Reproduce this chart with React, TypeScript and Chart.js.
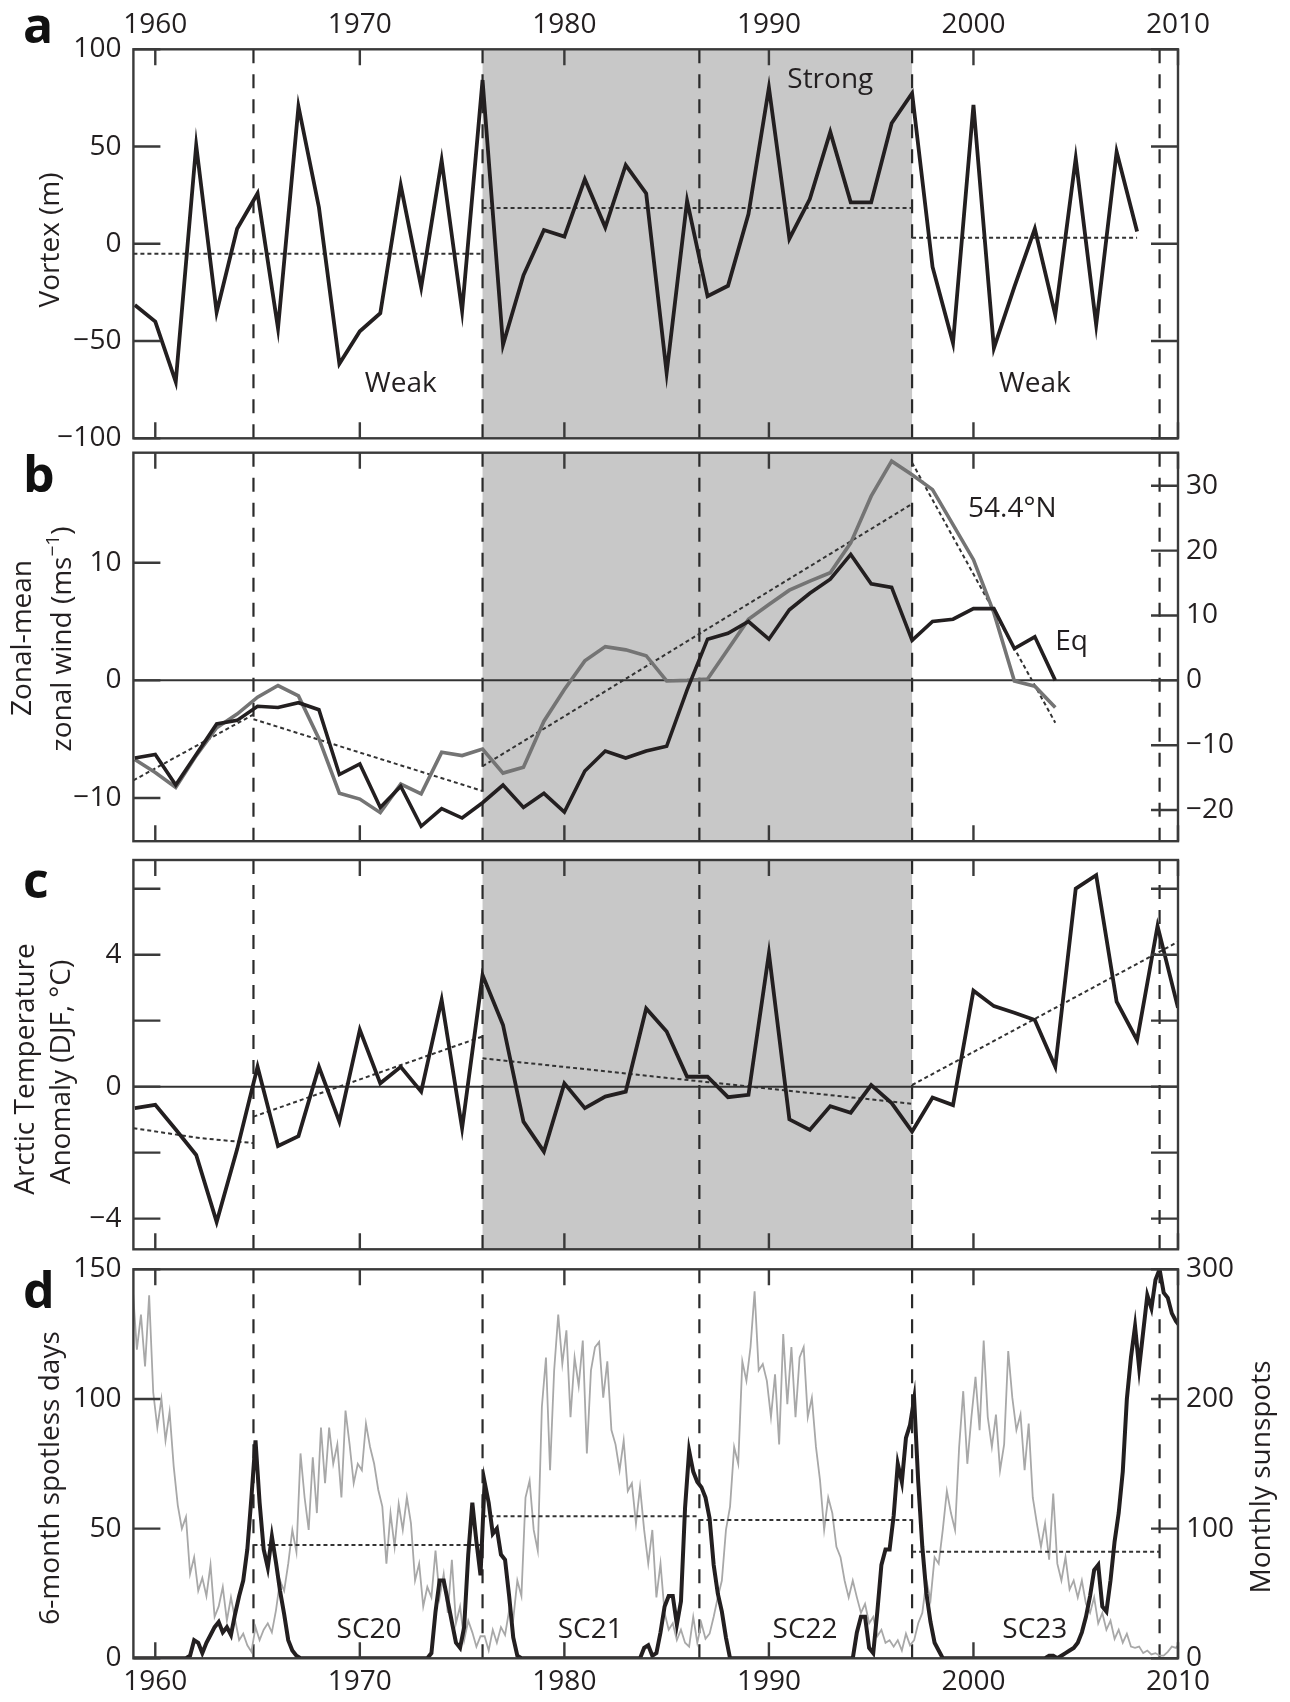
// App.tsx
import React, { useEffect, useRef } from 'react';
import Chart from 'chart.js/auto';

const FONT = '"Open Sans", "Noto Sans", "DejaVu Sans", sans-serif';
const INK = '#231f20';
const GRAY = '#747474';
const LIGHT = '#a8a8a8';
const SHADE = '#c8c8c8';
const LABEL_FONT = { family: FONT, size: 28 };

// shared time axis
const X_MIN = 1958.93;
const X_MAX = 2010;
const yearTicks = [1960, 1970, 1980, 1990, 2000, 2010];
const solarMinima = [1964.8, 1976.0, 1986.6, 1997.0, 2009.1];
const strongPeriod = [1976.0, 1997.0];

// a: vortex (m), one value per year from 1959
const vortexStart = 1959;
const vortex = [
  -31.5, -40, -71, 50.7, -35.2, 7.7, 25.9, -43.4, 70.6, 18.7,
  -61.7, -45, -35.7, 30.1, -22.4, 42.9, -34.5, 84.2, -51.9, -16.2,
  7.1, 3.7, 33.2, 8.5, 40.5, 25.9, -66.3, 22.1, -26.9, -21.6,
  15.3, 80.3, 2.6, 23, 57.5, 21.3, 21.3, 62, 77.4, -11.9,
  -51, 71.4, -53.6, -22.1, 7.7, -36.6, 43.9, -41.7, 47.3, 6.3,
];
const vortexBreaks = [X_MIN, 1976.0, 1997.0, 2008];
const vortexMeans = [-5.1, 18.4, 3.1];
const vortexTicks = [-100, -50, 0, 50, 100];

// b: zonal-mean zonal wind, yearly from 1959
const windStart = 1959;
const windEq = [
  -6.6, -6.3, -8.9, -6.3, -3.7, -3.4, -2.2, -2.3, -1.9, -2.5,
  -8.0, -7.1, -10.8, -9.0, -12.4, -10.9, -11.7, -10.4, -8.9, -10.8,
  -9.6, -11.2, -7.7, -6.0, -6.6, -6.0, -5.6, -0.8, 3.5, 4.0,
  5.0, 3.5, 6.0, 7.4, 8.6, 10.7, 8.2, 7.9, 3.4, 5.0,
  5.2, 6.1, 6.1, 2.7, 3.7, 0,
];
const wind544 = [
  -12.2, -14.2, -16.5, -11.6, -7.3, -5.2, -2.6, -0.8, -2.4, -9.0,
  -17.4, -18.3, -20.4, -16.0, -17.5, -11.1, -11.6, -10.6, -14.3, -13.4,
  -6.3, -1.4, 3.0, 5.2, 4.7, 3.8, -0.1, 0, 0.2, 4.8,
  9.4, 11.7, 13.9, 15.3, 16.6, 21.2, 28.4, 33.8, 31.7, 29.4,
  24.0, 18.6, 10.4, -0.1, -0.9, -4.2,
];
const windTrendX = [[X_MIN, 1964.8], [1964.8, 1976.0], [1976.0, 1997.0], [1997.0, 2004]];
const windTrendY = [[-8.5, -2.9], [-3.3, -9.4], [-7.3, 15.0], [18.5, -3.6]];
const windTicks = [-10, 0, 10];
const windRightTicks = [-20, -10, 0, 10, 20, 30];

// c: Arctic temperature anomaly (DJF), yearly from 1959
const tempStart = 1959;
const arcticTemp = [
  -0.65, -0.55, -1.3, -2.07, -4.1, -1.9, 0.6, -1.8, -1.5, 0.6,
  -1.06, 1.72, 0.1, 0.6, -0.15, 2.63, -1.26, 3.38, 1.87, -1.06,
  -1.97, 0.1, -0.65, -0.3, -0.15, 2.37, 1.67, 0.3, 0.3, -0.32,
  -0.25, 4.04, -0.99, -1.31, -0.59, -0.79, 0.05, -0.5, -1.36, -0.33,
  -0.56, 2.91, 2.44, 2.24, 2.02, 0.6, 6.0, 6.41, 2.58, 1.41,
  4.87, 2.39,
];
const tempTrendX = [[X_MIN, 1962.2, 1964.8], [1964.8, 1976.0], [1976.0, 1997.0], [1997.0, 2010]];
const tempTrendY = [[-1.26, -1.56, -1.71], [-0.91, 1.52], [0.86, -0.52], [0.05, 4.39]];
const tempTicks = [-4, -2, 0, 2, 4, 6];
const tempLabels = [-4, 0, 4];

// d: sampled every 0.2 yr from 1958.9 (one row = one year)
const solarStart = 1958.9;
const solarStep = 0.2;
const sunspots = [
  285, 238, 265, 225, 280, // 1958.9
  205, 178, 200, 168, 190,
  148, 118, 100, 109, 65,
  78, 52, 62, 48, 72,
  32, 40, 55, 29, 47,
  30, 14, 19, 10, 5, // 1963.9
  24, 14, 22, 27, 20,
  37, 60, 52, 73, 99,
  82, 158, 124, 99, 155,
  112, 178, 135, 178, 150,
  165, 124, 191, 165, 135, // 1968.9
  150, 145, 181, 163, 150,
  130, 117, 73, 112, 86,
  119, 99, 124, 104, 60,
  73, 40, 55, 47, 83,
  47, 65, 35, 76, 27, // 1973.9
  40, 14, 29, 20, 9,
  17, 17, 6, 22, 12,
  24, 18, 37, 30, 60,
  48, 124, 137, 99, 83,
  194, 232, 145, 222, 265, // 1978.9
  227, 253, 186, 232, 210,
  245, 158, 222, 240, 244,
  201, 229, 176, 165, 145,
  168, 129, 135, 104, 132,
  99, 73, 99, 47, 73, // 1983.9
  35, 22, 27, 14, 22,
  12, 9, 32, 12, 27,
  15, 19, 32, 47, 60,
  99, 117, 163, 150, 229,
  214, 240, 283, 222, 227, // 1988.9
  214, 186, 219, 165, 250,
  196, 240, 186, 232, 240,
  186, 201, 163, 137, 99,
  124, 112, 86, 78, 60,
  47, 60, 47, 35, 42, // 1993.9
  27, 32, 17, 22, 12,
  14, 9, 14, 6, 19,
  10, 14, 27, 35, 60,
  45, 78, 73, 99, 129,
  112, 99, 163, 206, 150, // 1998.9
  186, 217, 176, 245, 186,
  163, 188, 145, 165, 237,
  201, 176, 188, 145, 181,
  124, 104, 86, 104, 76,
  127, 73, 60, 78, 53, // 2003.9
  60, 47, 60, 42, 35,
  47, 27, 35, 22, 29,
  15, 22, 12, 19, 9,
  8, 9, 4, 6, 3,
  4, 2, 2, 5, 9, // 2008.9
  8, 12,
];
const spotless = [
  0, 0, 0, 0, 0, // 1958.9
  0, 0, 0, 0, 0,
  0, 0, 0, 0, 1,
  7, 6, 2, 6, 9,
  12, 14, 10, 12, 9,
  17, 24, 30, 42, 62, // 1963.9
  84, 60, 42, 35, 47,
  37, 26, 17, 7, 3,
  1, 0, 0, 0, 0,
  0, 0, 0, 0, 0,
  0, 0, 0, 0, 0, // 1968.9
  0, 0, 0, 0, 0,
  0, 0, 0, 0, 0,
  0, 0, 0, 0, 0,
  0, 0, 0, 2, 18,
  30, 30, 22, 14, 6, // 1973.9
  4, 12, 40, 60, 45,
  32, 68, 60, 48, 50,
  40, 38, 24, 8, 1,
  0, 0, 0, 0, 0,
  0, 0, 0, 0, 0, // 1978.9
  0, 0, 0, 0, 0,
  0, 0, 0, 0, 0,
  0, 0, 0, 0, 0,
  0, 0, 0, 0, 0,
  4, 5, 1, 2, 10, // 1983.9
  20, 24, 24, 13, 22,
  58, 80, 72, 68, 66,
  62, 54, 36, 25, 18,
  8, 0, 0, 0, 0,
  0, 0, 0, 0, 0, // 1988.9
  0, 0, 0, 0, 0,
  0, 0, 0, 0, 0,
  0, 0, 0, 0, 0,
  0, 0, 0, 0, 0,
  0, 0, 10, 16, 16, // 1993.9
  4, 2, 18, 36, 42,
  42, 55, 75, 68, 85,
  90, 100, 68, 43, 25,
  14, 6, 3, 0, 0,
  0, 0, 0, 0, 0, // 1998.9
  0, 0, 0, 0, 0,
  0, 0, 0, 0, 0,
  0, 0, 0, 0, 0,
  0, 0, 0, 0, 1,
  1, 0, 1, 2, 3, // 2003.9
  4, 6, 10, 16, 24,
  34, 36, 20, 18, 30,
  45, 56, 72, 100, 116,
  128, 112, 126, 140, 135,
  146, 150, 141, 139, 133, // 2008.9
  130, 128,
];
const spotlessMeanX = [[1964.8, 1976.0], [1976.0, 1986.6], [1986.6, 1997.0], [1997.0, 2009.1]];
const spotlessMeans = [43.7, 54.8, 53.3, 41.1];
const spotlessTicks = [0, 50, 100, 150];
const sunspotTicks = [0, 100, 200, 300];

// ---------- helpers ----------
const yearly = (start: number, values: number[]) => values.map((y, i) => ({ x: start + i, y }));
const segment = (xs: number[], ys: number[]) => xs.map((x, i) => ({ x, y: ys[i] }));
const sampled = (values: number[]) => values.map((y, i) => ({ x: solarStart + i * solarStep, y }));

const fmt = (v: number) => (v < 0 ? '\u2212' + Math.abs(v) : String(v));

function solid(data: any[], color: string, width: number, extra: any = {}) {
  return { data, borderColor: color, borderWidth: width, pointRadius: 0, tension: 0, fill: false, ...extra };
}
function dotted(data: any[]) {
  return solid(data, '#333', 2, { borderDash: [4, 3] });
}

function xAxis(position: 'top' | 'bottom' | null, size: number) {
  return {
    type: 'linear',
    min: X_MIN,
    max: X_MAX,
    position: position ?? 'bottom',
    display: position !== null,
    grid: { display: false, drawTicks: false },
    border: { display: false },
    ticks: { autoSkip: false, maxRotation: 0, padding: 7, color: INK, font: LABEL_FONT, callback: (v: number) => String(v) },
    afterBuildTicks: (s: any) => { s.ticks = yearTicks.map((value) => ({ value })); },
    afterFit: (s: any) => { s.height = size; },
  };
}

function yAxis(position: 'left' | 'right', min: number, max: number, labels: number[], width: number) {
  return {
    type: 'linear',
    position,
    min,
    max,
    grid: { display: false, drawTicks: false },
    border: { display: false },
    ticks: { padding: position === 'left' ? 12 : 8, color: INK, font: LABEL_FONT, callback: (v: number) => fmt(v) },
    afterBuildTicks: (s: any) => { s.ticks = labels.map((value) => ({ value })); },
    afterFit: (s: any) => { s.width = width; },
  };
}

function options(padding: any, scales: any) {
  return {
    responsive: true,
    maintainAspectRatio: false,
    animation: false,
    events: [],
    layout: { padding },
    plugins: { legend: { display: false }, tooltip: { enabled: false } },
    scales,
  };
}

type Note = { text: string; x: number; y: number; align?: CanvasTextAlign };
type Part = { t: string; sup?: boolean };
type Title = { parts: Part[]; cx: number; cy: number };
type Decor = {
  shade: boolean;
  leftTicks: number[];
  rightScale: string;
  rightTicks: number[];
  notes: Note[];
  titles: Title[];
  letter: string;
  letterY: number;
};

function drawTitle(ctx: CanvasRenderingContext2D, title: Title) {
  const big = `28px ${FONT}`;
  const small = `19px ${FONT}`;
  ctx.save();
  ctx.translate(title.cx, title.cy);
  ctx.rotate(-Math.PI / 2);
  ctx.textBaseline = 'middle';
  ctx.textAlign = 'left';
  const widths = title.parts.map((p) => {
    ctx.font = p.sup ? small : big;
    return ctx.measureText(p.t).width;
  });
  let x = -widths.reduce((a, b) => a + b, 0) / 2;
  title.parts.forEach((p, i) => {
    ctx.font = p.sup ? small : big;
    ctx.fillText(p.t, x, p.sup ? -9 : 0);
    x += widths[i];
  });
  ctx.restore();
}

function decor(d: Decor) {
  return {
    id: 'decor',
    beforeDatasetsDraw(chart: any) {
      const { ctx, chartArea: a } = chart;
      const x = chart.scales.x;
      ctx.save();
      if (d.shade) {
        const x0 = x.getPixelForValue(strongPeriod[0]);
        const x1 = x.getPixelForValue(strongPeriod[1]);
        ctx.fillStyle = SHADE;
        ctx.fillRect(x0, a.top, x1 - x0, a.bottom - a.top);
      }
      ctx.strokeStyle = '#2a2a2a';
      ctx.lineWidth = 2.2;
      ctx.setLineDash([14, 11]);
      for (const yr of solarMinima) {
        const px = x.getPixelForValue(yr);
        ctx.beginPath();
        ctx.moveTo(px, a.top);
        ctx.lineTo(px, a.bottom);
        ctx.stroke();
      }
      ctx.restore();
    },
    afterDatasetsDraw(chart: any) {
      const { ctx, chartArea: a } = chart;
      const x = chart.scales.x;
      const y = chart.scales.y;
      const yr = chart.scales[d.rightScale];
      ctx.save();
      ctx.strokeStyle = '#3a3a3a';
      ctx.lineWidth = 2.4;
      ctx.strokeRect(a.left, a.top, a.right - a.left, a.bottom - a.top);

      // inward ticks
      ctx.beginPath();
      for (const t of yearTicks) {
        const px = x.getPixelForValue(t);
        ctx.moveTo(px, a.top);
        ctx.lineTo(px, a.top + 16);
        ctx.moveTo(px, a.bottom);
        ctx.lineTo(px, a.bottom - 16);
      }
      for (const t of d.leftTicks) {
        const py = y.getPixelForValue(t);
        ctx.moveTo(a.left, py);
        ctx.lineTo(a.left + 27, py);
      }
      for (const t of d.rightTicks) {
        const py = yr.getPixelForValue(t);
        ctx.moveTo(a.right, py);
        ctx.lineTo(a.right - 27, py);
      }
      ctx.stroke();

      ctx.fillStyle = INK;
      ctx.font = `28px ${FONT}`;
      ctx.textBaseline = 'alphabetic';
      for (const n of d.notes) {
        ctx.textAlign = n.align ?? 'center';
        ctx.fillText(n.text, x.getPixelForValue(n.x), y.getPixelForValue(n.y));
      }
      for (const t of d.titles) drawTitle(ctx, t);

      ctx.font = `bold 50px ${FONT}`;
      ctx.textAlign = 'left';
      ctx.textBaseline = 'alphabetic';
      ctx.fillStyle = '#111';
      ctx.fillText(d.letter, 23, d.letterY);
      ctx.restore();
    },
  };
}

// ---------- panels ----------
function vortexConfig(): any {
  const means = vortexMeans.map((m, i) => dotted(segment([vortexBreaks[i], vortexBreaks[i + 1]], [m, m])));
  return {
    type: 'line',
    data: { datasets: [solid(yearly(vortexStart, vortex), INK, 3.8), ...means] },
    options: options({ left: 0, top: 0, bottom: 31.7, right: 112 }, {
      x: xAxis('top', 49.3),
      y: yAxis('left', -100, 100, vortexTicks, 133.4),
    }),
    plugins: [decor({
      shade: true,
      leftTicks: vortexTicks,
      rightScale: 'y',
      rightTicks: vortexTicks,
      notes: [
        { text: 'Weak', x: 1972.0, y: -76 },
        { text: 'Strong', x: 1993.0, y: 80 },
        { text: 'Weak', x: 2003.0, y: -76 },
      ],
      titles: [{ parts: [{ t: 'Vortex (m)' }], cx: 51, cy: 240 }],
      letter: 'a',
      letterY: 43,
    })],
  };
}

function windConfig(): any {
  const trends = windTrendX.map((xs, i) => dotted(segment(xs, windTrendY[i])));
  return {
    type: 'line',
    data: {
      datasets: [
        solid(yearly(windStart, windEq), INK, 3.6),
        solid(yearly(windStart, wind544), GRAY, 3.6, { yAxisID: 'y2' }),
        ...trends,
        solid(segment([X_MIN, X_MAX], [0, 0]), '#333', 2),
      ],
    },
    options: options({ left: 0, top: 32.7, bottom: 27.7, right: 0 }, {
      x: xAxis(null, 0),
      y: yAxis('left', -13.67, 19.35, windTicks, 133.4),
      y2: yAxis('right', -24.8, 35.1, windRightTicks, 112),
    }),
    plugins: [decor({
      shade: true,
      leftTicks: windTicks,
      rightScale: 'y2',
      rightTicks: windRightTicks,
      notes: [
        { text: '54.4°N', x: 2001.9, y: 13.9 },
        { text: 'Eq', x: 2004.0, y: 2.6, align: 'left' },
      ],
      titles: [
        { parts: [{ t: 'Zonal-mean' }], cx: 23, cy: 218 },
        { parts: [{ t: 'zonal wind (ms' }, { t: '\u22121', sup: true }, { t: ')' }], cx: 63, cy: 219 },
      ],
      letter: 'b',
      letterY: 72,
    })],
  };
}

function tempConfig(): any {
  const trends = tempTrendX.map((xs, i) => dotted(segment(xs, tempTrendY[i])));
  return {
    type: 'line',
    data: {
      datasets: [
        solid(yearly(tempStart, arcticTemp), INK, 3.8),
        ...trends,
        solid(segment([X_MIN, X_MAX], [0, 0]), '#333', 2),
      ],
    },
    options: options({ left: 0, top: 30, bottom: 30.7, right: 112 }, {
      x: xAxis(null, 0),
      y: yAxis('left', -4.93, 6.87, tempLabels, 133.4),
    }),
    plugins: [decor({
      shade: true,
      leftTicks: tempTicks,
      rightScale: 'y',
      rightTicks: tempTicks,
      notes: [],
      titles: [
        { parts: [{ t: 'Arctic Temperature' }], cx: 26, cy: 239 },
        { parts: [{ t: 'Anomaly (DJF, °C)' }], cx: 62, cy: 242 },
      ],
      letter: 'c',
      letterY: 68,
    })],
  };
}

function solarConfig(): any {
  const means = spotlessMeans.map((m, i) => dotted(segment(spotlessMeanX[i], [m, m])));
  return {
    type: 'line',
    data: {
      datasets: [
        solid(sampled(spotless), INK, 4),
        ...means,
        solid(sampled(sunspots), LIGHT, 1.8, { yAxisID: 'y2' }),
      ],
    },
    options: options({ left: 0, top: 29.3, bottom: 0, right: 0 }, {
      x: xAxis('bottom', 43.7),
      y: yAxis('left', 0, 150, spotlessTicks, 133.4),
      y2: yAxis('right', 0, 300, sunspotTicks, 112),
    }),
    plugins: [decor({
      shade: false,
      leftTicks: spotlessTicks,
      rightScale: 'y2',
      rightTicks: sunspotTicks,
      notes: [
        { text: 'SC20', x: 1970.45, y: 7.8 },
        { text: 'SC21', x: 1981.26, y: 7.8 },
        { text: 'SC22', x: 1991.77, y: 7.8 },
        { text: 'SC23', x: 2003.0, y: 7.8 },
      ],
      titles: [
        { parts: [{ t: '6-month spotless days' }], cx: 51, cy: 238 },
        { parts: [{ t: 'Monthly sunspots' }], cx: 1262, cy: 237 },
      ],
      letter: 'd',
      letterY: 68,
    })],
  };
}

function ChartPanel({ top, height, build }: { top: number; height: number; build: () => any }) {
  const chartRef = useRef<HTMLCanvasElement | null>(null);

  useEffect(() => {
    if (chartRef.current) {
      const chartInstance = new Chart(chartRef.current, build());
      return () => chartInstance.destroy();
    }
  }, [build]);

  return (
    <div style={{ position: 'absolute', left: 0, top, width: 1290, height }}>
      <canvas ref={chartRef} />
    </div>
  );
}

export default function App() {
  useEffect(() => {
    document.body.style.margin = '0';
  }, []);

  return (
    <div style={{ position: 'relative', width: 1290, height: 1702, background: '#fff' }}>
      <ChartPanel top={0} height={470} build={vortexConfig} />
      <ChartPanel top={420} height={450} build={windConfig} />
      <ChartPanel top={830} height={450} build={tempConfig} />
      <ChartPanel top={1240} height={462} build={solarConfig} />
    </div>
  );
}
